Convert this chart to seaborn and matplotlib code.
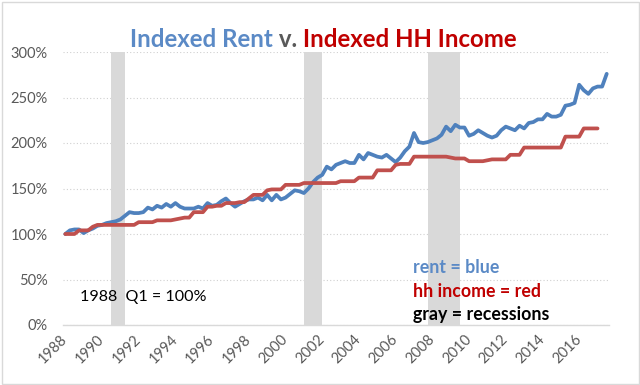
import numpy as np
import pandas as pd
import matplotlib
matplotlib.use("Agg")
import matplotlib.pyplot as plt
import seaborn as sns
from matplotlib.patches import Rectangle

# ---- data (quarterly index, 1988 Q1 = 100) ----------------------------
rent = [100, 104, 105, 105,
        101, 104, 106, 109,
        110, 112, 113, 114,
        116, 120, 124, 123,
        123, 124, 129, 127,
        131, 129, 133, 130,
        134, 130, 128, 128,
        128, 130, 128, 134,
        131, 132, 136, 139,
        134, 130, 133, 136,
        138, 138, 140, 137,
        143, 137, 143, 138,
        140, 144, 148, 147,
        145, 150, 157, 162,
        165, 174, 171, 176,
        178, 180, 178, 178,
        187, 182, 189, 187,
        185, 184, 187, 183,
        179, 184, 191, 196,
        211, 201, 200, 201,
        203, 205, 209, 218,
        213, 220, 217, 217,
        208, 210, 214, 211,
        208, 206, 208, 214,
        218, 216, 214, 219,
        216, 222, 223, 226,
        226, 232, 229, 229,
        231, 241, 242, 244,
        264, 258, 254, 260,
        262, 262, 276]

income = [100, 100, 100, 104,
          104, 104, 108, 110,
          110, 110, 110, 110,
          110, 110, 110, 110,
          113, 113, 113, 113,
          115, 115, 115, 115,
          116, 117, 118, 118,
          124, 124, 124, 130,
          130, 131, 131, 134,
          134, 134, 135, 135,
          139, 143, 143, 143,
          148, 149, 149, 149,
          154, 154, 154, 154,
          156, 156, 156, 156,
          156, 156, 156, 156,
          158, 158, 158, 158,
          162, 162, 162, 162,
          170, 170, 170, 170,
          176, 177, 177, 177,
          185, 185, 185, 185,
          185, 185, 185, 185,
          184, 183, 183, 183,
          180, 180, 180, 180,
          181, 182, 182, 182,
          182, 187, 187, 187,
          195, 195, 195, 195,
          195, 195, 195, 195,
          195, 207, 207, 207,
          207, 216, 216, 216,
          216]

recessions = [("1990Q3", "1991Q1"), ("2001Q1", "2001Q4"), ("2007Q4", "2009Q2")]
tick_years = list(range(1988, 2017, 2))
y_ticks = [0, 50, 100, 150, 200, 250, 300]


def qyear(periods):
    p = pd.PeriodIndex(periods, freq="Q")
    return p.year + (p.quarter - 1) / 4.0


df_rent = pd.DataFrame({"t": qyear(pd.period_range("1988Q1", periods=len(rent), freq="Q")),
                        "v": rent})
df_inc = pd.DataFrame({"t": qyear(pd.period_range("1988Q1", periods=len(income), freq="Q")),
                       "v": income})

BLUE = "#4F81BD"
RED = "#C0504D"
GRAY_TXT = "#595959"

sns.set_theme(style="white")
plt.rcParams["font.family"] = ["Lato", "DejaVu Sans"]

fig = plt.figure(figsize=(6.4, 3.85), dpi=100)
ax = fig.add_axes([63 / 640, 60 / 385, 546 / 640, 273 / 385])

for s, e in recessions:
    s0 = qyear([s])[0]
    e0 = qyear([e])[0] + 0.25
    ax.axvspan(s0, e0, color="#D9D9D9", lw=0, zorder=1)

sns.lineplot(data=df_rent, x="t", y="v", color=BLUE, lw=2.7, ax=ax, zorder=3)
sns.lineplot(data=df_inc, x="t", y="v", color=RED, lw=2.7, ax=ax, zorder=4)

ax.set_xlim(1987.875, 2017.625)
ax.set_ylim(0, 300)
ax.set_yticks(y_ticks)
ax.set_yticklabels([f"{v}%" for v in y_ticks])
ax.set_xticks(tick_years)
ax.set_xticklabels([str(y) for y in tick_years], rotation=45, ha="right",
                   va="center", rotation_mode="anchor")
ax.set_xlabel("")
ax.set_ylabel("")
ax.tick_params(axis="both", length=0, labelsize=10.5, labelcolor=GRAY_TXT)
ax.tick_params(axis="y", pad=11)
ax.tick_params(axis="x", pad=9)

ax.yaxis.grid(True, color="#D0D0D0", lw=0.8, linestyle=(0, (1, 2)), zorder=0)
ax.xaxis.grid(False)
for side in ["left", "right", "top"]:
    ax.spines[side].set_visible(False)
ax.spines["bottom"].set_color("#D9D9D9")
ax.spines["bottom"].set_linewidth(1)
ax.spines["bottom"].set_zorder(2)

# title in three colours
t1 = fig.text(130 / 640, 1 - 47 / 385, "Indexed Rent", color="#5B8AC6",
              fontsize=17.3, fontweight="bold", ha="left", va="baseline")
t2 = ax.annotate(" v. ", xy=(1, 0), xycoords=t1, va="bottom", ha="left",
                 color=GRAY_TXT, fontsize=17.3, fontweight="bold")
t3 = ax.annotate("Indexed HH Income", xy=(1, 0), xycoords=t2, va="bottom",
                 ha="left", color="#C00000", fontsize=17.3, fontweight="bold")

ax.text(1988.8, 31, "1988  Q1 = 100%", color="black", fontsize=11.6,
        ha="left", va="center", zorder=5)
ax.text(2006.95, 63, "rent = blue", color="#5B8AC6", fontsize=12.8,
        fontweight="bold", ha="left", va="center", zorder=5)
ax.text(2006.95, 37, "hh income = red", color="#C00000", fontsize=12.8,
        fontweight="bold", ha="left", va="center", zorder=5)
ax.text(2006.95, 11, "gray = recessions", color="black", fontsize=12.8,
        fontweight="bold", ha="left", va="center", zorder=5)

fig.patches.append(Rectangle((1.5 / 640, 1.5 / 385), 637 / 640, 382 / 385,
                             transform=fig.transFigure, fill=False,
                             edgecolor="#D9D9D9", lw=1))

fig.savefig("out.png", dpi=100)
